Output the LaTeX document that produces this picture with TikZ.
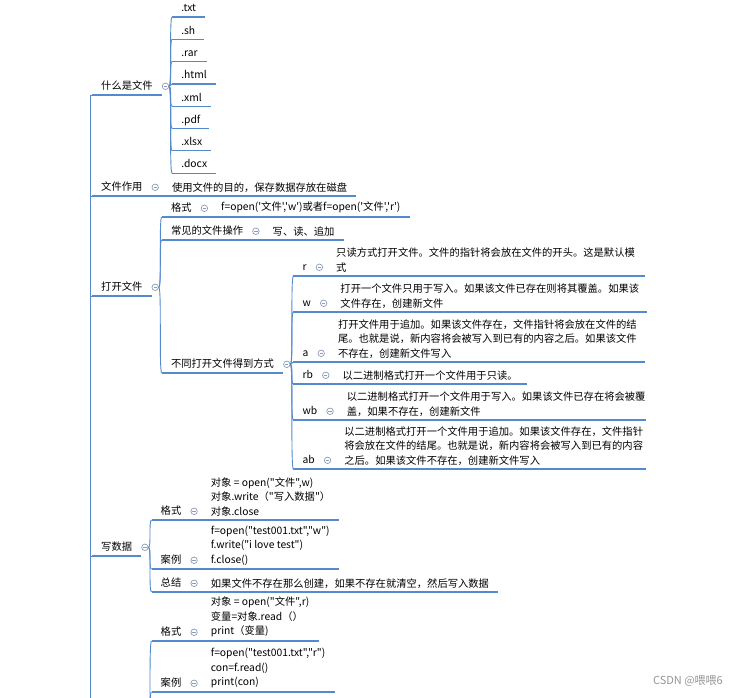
\documentclass[tikz,border=0pt]{standalone}
\usepackage{fontspec}
\setmainfont{Noto Sans CJK SC}[Ligatures=TeXOff]
\usetikzlibrary{positioning,calc}
\definecolor{linec}{RGB}{86,138,206}
\definecolor{foldc}{RGB}{140,155,185}
\definecolor{markc}{RGB}{150,150,150}

\begin{document}
\begin{tikzpicture}[x=1pt, y=-1pt,
        uline/.style={draw=linec, line width=1.2pt},
        conn/.style={draw=linec, line width=0.9pt},
        topic/.style={anchor=south west, inner xsep=9pt, inner ysep=3.5pt,
            align=left, font=\fontsize{10.3}{14.5}\selectfont,
            append after command={\pgfextra{\let\lastnd\tikzlastnode} (\lastnd.south west) edge[uline] (\lastnd.south east)}},
        lbl/.style={topic, inner ysep=3pt, text height=9pt, text depth=2pt},
        fold/.style={circle, draw=foldc, fill=white, line width=0.7pt, minimum size=6.5pt, inner sep=0pt,
            path picture={\draw[foldc, line width=0.7pt] ([xshift=1.6pt]path picture bounding box.west) -- ([xshift=-1.6pt]path picture bounding box.east);}}]

        \useasboundingbox (0,0) rectangle (739,697);
        \fill[white] (0,0) rectangle (739,697);
        \clip (0,0) rectangle (739,697);

        % the root lies off the page
        \coordinate (root) at (90,780);

        \node[lbl] (wj) at (92,95) {什么是文件};
        \node[lbl] (zy) at (92,196) {文件作用};
        \node[lbl] (dk) at (92,296) {打开文件};
        \node[lbl] (xs) at (92,556) {写数据};
        \foreach \n in {wj,zy,dk,xs} {
            \draw[conn] (root) |- (\n.south west);
            \node[fold, right=0pt of \n] (\n-f) {};
        }

        % file types
        \coordinate (wj-b) at ($(wj-f.east)+(3,0)$);
        \foreach \e [count=\i from 0] in {txt,sh,rar,html,xml,pdf,xlsx,docx} {
            \pgfmathsetmacro\yy{17+22.3*\i}
            \node[lbl] (e-\e) at (wj-b |- 0,\yy) {.\e};
            \draw[conn] (wj-f.east) .. controls +(3,0) and +(-3,0) .. (e-\e.south west);
        }

        \node[topic] (zy-t) at ($(zy-f.east |- zy.south)+(4,0)$) {使用文件的目的，保存数据存放在磁盘};
        \draw[uline] (zy.south east) -- (zy-t.south west);

        % opening a file
        \coordinate (dk-b) at ($(dk-f.east)+(3,0)$);
        \node[lbl] (gs1) at (dk-b |- 0,217) {格式};
        \node[lbl] (cj) at (dk-b |- 0,240) {常见的文件操作};
        \node[lbl] (bt) at (dk-b |- 0,373) {不同打开文件得到方式};
        \foreach \n in {gs1,cj,bt} {
            \draw[conn] (dk-f.east) .. controls +(3,0) and +(-3,0) .. (\n.south west);
            \node[fold, right=0pt of \n] (\n-f) {};
        }
        \node[topic] (gs1-t) at ($(gs1-f.east |- gs1.south)+(4,0)$) {f=open('文件','w')或者f=open('文件','r')};
        \node[topic] (cj-t) at ($(cj-f.east |- cj.south)+(4,0)$) {写、读、追加};
        \draw[uline] (gs1.south east) -- (gs1-t.south west);
        \draw[uline] (cj.south east) -- (cj-t.south west);

        \coordinate (bt-b) at ($(bt-f.east)+(3,0)$);
        \foreach \m/\y in {r/276,w/312,a/362,rb/384,wb/420,ab/469} {
            \node[lbl] (m-\m) at (bt-b |- 0,\y) {\m};
            \draw[conn] (bt-f.east) .. controls +(3,0) and +(-3,0) .. (m-\m.south west);
            \node[fold, right=0pt of m-\m] (m-\m-f) {};
        }
        \node[topic, text width=300pt] (m-r-t) at ($(m-r-f.east |- m-r.south)+(4,0)$)
            {只读方式打开文件。文件的指针将会放在文件的开头。这是默认模\\式};
        \node[topic, text width=297pt] (m-w-t) at ($(m-w-f.east |- m-w.south)+(4,0)$)
            {打开一个文件只用于写入。如果该文件已存在则将其覆盖。如果该\\文件存在，创建新文件};
        \node[topic, text width=298pt] (m-a-t) at ($(m-a-f.east |- m-a.south)+(4,0)$)
            {打开文件用于追加。如果该文件存在，文件指针将会放在文件的结\\尾。也就是说，新内容将会被写入到已有的内容之后。如果该文件\\不存在，创建新文件写入};
        \node[topic] (m-rb-t) at ($(m-rb-f.east |- m-rb.south)+(4,0)$)
            {以二进制格式打开一个文件用于只读。};
        \node[topic, text width=290pt] (m-wb-t) at ($(m-wb-f.east |- m-wb.south)+(4,0)$)
            {以二进制格式打开一个文件用于写入。如果该文件已存在将会被覆\\盖，如果不存在，创建新文件};
        \node[topic, text width=292pt] (m-ab-t) at ($(m-ab-f.east |- m-ab.south)+(4,0)$)
            {以二进制格式打开一个文件用于追加。如果该文件存在，文件指针\\将会放在文件的结尾。也就是说，新内容将会被写入到已有的内容\\之后。如果该文件不存在，创建新文件写入};
        \foreach \m in {r,w,a,rb,wb,ab}
            \draw[uline] (m-\m.south east) -- (m-\m-t.south west);

        % writing data
        \coordinate (xs-b) at ($(xs-f.east)+(3,0)$);
        \node[lbl] (gs2) at (xs-b |- 0,520) {格式};
        \node[lbl] (al1) at (xs-b |- 0,569) {案例};
        \node[lbl] (zj) at (xs-b |- 0,592) {总结};
        \foreach \n in {gs2,al1,zj} {
            \draw[conn] (xs-f.east) .. controls +(3,0) and +(-3,0) .. (\n.south west);
            \node[fold, right=0pt of \n] (\n-f) {};
        }
        \node[topic] (gs2-t) at ($(gs2-f.east |- gs2.south)+(4,0)$)
            {对象 = open("文件",w)\\对象.write（"写入数据"）\\对象.close};
        \node[topic] (al1-t) at ($(al1-f.east |- al1.south)+(4,0)$)
            {f=open("test001.txt","w")\\f.write("i love test")\\f.close()};
        \node[topic] (zj-t) at ($(zj-f.east |- zj.south)+(4,0)$)
            {如果文件不存在那么创建，如果不存在就清空，然后写入数据};

        % next branch, its parent is below the page
        \coordinate (rd-f) at (xs-f.east |- 0,745);
        \coordinate (rd-b) at ($(rd-f)+(3,0)$);
        \node[lbl] (gs3) at (rd-b |- 0,641) {格式};
        \node[lbl] (al2) at (rd-b |- 0,692) {案例};
        \foreach \n in {gs3,al2} {
            \draw[conn] (rd-f) .. controls +(3,0) and +(-3,0) .. (\n.south west);
            \node[fold, right=0pt of \n] (\n-f) {};
        }
        \node[topic] (gs3-t) at ($(gs3-f.east |- gs3.south)+(4,0)$)
            {对象 = open("文件",r)\\变量=对象.read（）\\print（变量)};
        \node[topic] (al2-t) at ($(al2-f.east |- al2.south)+(4,0)$)
            {f=open("test001.txt","r")\\con=f.read()\\print(con)};
        \foreach \n in {gs2,al1,zj,gs3,al2}
            \draw[uline] (\n.south east) -- (\n-t.south west);

        \node[anchor=east, text=markc, font=\fontsize{11}{13}\selectfont, inner sep=0pt] (mark) at (723,681) {CSDN @喂喂6};
    \end{tikzpicture}
\end{document}
